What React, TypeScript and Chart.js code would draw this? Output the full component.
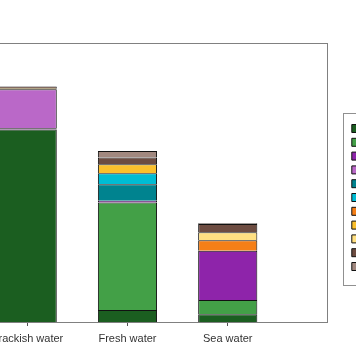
import React, { useEffect, useRef } from 'react';
import { Chart, registerables } from 'chart.js';

Chart.register(...registerables);

// Categories (x axis tick labels)
const categories = ['Brackish water', 'Fresh water', 'Sea water'];

// Legend entries (text lies outside the visible area of the reference)
const seriesNames = [
  'Group 1', 'Group 2', 'Group 3', 'Group 4', 'Group 5', 'Group 6',
  'Group 7', 'Group 8', 'Group 9', 'Group 10', 'Group 11',
];

const seriesColors = [
  '#1B5E20', '#43A047', '#8E24AA', '#BA68C8', '#00838F', '#00BCD4',
  '#F57F17', '#FBC02D', '#FFE082', '#6D4C41', '#A1887F',
];

// Series values per category (Brackish, Fresh, Sea)
const s1 = [69.0, 4.3, 2.8];
const s2 = [0, 38.5, 5.1];
const s3 = [0.4, 0.7, 17.6];
const s4 = [14.0, 0, 0];
const s5 = [0, 5.9, 0];
const s6 = [0, 3.9, 0];
const s7 = [0, 0, 3.8];
const s8 = [0.35, 3.2, 0];
const s9 = [0, 0, 2.9];
const s10 = [0.7, 2.5, 2.9];
const s11 = [0, 2.3, 0.3];

const seriesValues = [s1, s2, s3, s4, s5, s6, s7, s8, s9, s10, s11];

const yMax = 100;
const xMin = -0.74;
const xMax = 2.99;

const FONT = 'Liberation Sans, Arial, sans-serif';

const framePlugin = {
  id: 'frames',
  afterDraw(chart: any) {
    const { ctx, chartArea: a } = chart;
    ctx.save();
    ctx.strokeStyle = '#808080';
    ctx.lineWidth = 1;
    ctx.strokeRect(
      Math.round(a.left) + 0.5,
      Math.round(a.top) + 0.5,
      Math.round(a.right - a.left),
      Math.round(a.bottom - a.top)
    );
    const boxes = chart.legend && chart.legend.legendHitBoxes;
    if (boxes && boxes.length) {
      const left = Math.min(...boxes.map((b: any) => b.left)) - 9;
      const top = boxes[0].top - 10;
      const last = boxes[boxes.length - 1];
      const bottom = last.top + last.height + 13;
      ctx.strokeStyle = '#909090';
      ctx.strokeRect(
        Math.round(left) + 0.5,
        Math.round(top) + 0.5,
        chart.width - Math.round(left) + 5,
        Math.round(bottom - top)
      );
    }
    ctx.restore();
  },
};

export default function App() {
  const ref = useRef<HTMLCanvasElement | null>(null);

  useEffect(() => {
    if (!ref.current) return;
    const datasets = seriesValues.map((vals, k) => ({
      label: seriesNames[k],
      data: vals.map((v, i) => ({ x: i, y: v === 0 ? null : v })),
      backgroundColor: seriesColors[k],
      borderColor: '#111111',
      borderWidth: 1,
      barPercentage: 0.59,
      categoryPercentage: 1,
    }));

    const chart = new Chart(ref.current, {
      type: 'bar',
      data: { datasets },
      plugins: [framePlugin],
      options: {
        responsive: false,
        animation: false,
        events: [],
        layout: { padding: { top: 43, left: 0, right: 0, bottom: 0 } },
        plugins: {
          tooltip: { enabled: false },
          title: { display: false },
          legend: {
            display: true,
            position: 'right',
            align: 'center',
            maxWidth: 60,
            labels: {
              boxWidth: 8,
              boxHeight: 8,
              padding: 2.8,
              color: '#333333',
              font: { size: 11, family: FONT },
            },
          },
        },
        scales: {
          x: {
            type: 'linear',
            stacked: true,
            offset: false,
            min: xMin,
            max: xMax,
            grid: {
              display: true,
              offset: false,
              drawOnChartArea: false,
              drawTicks: true,
              tickLength: 4,
              color: '#555555',
            },
            border: { display: false },
            ticks: {
              stepSize: 1,
              includeBounds: false,
              autoSkip: false,
              maxRotation: 0,
              padding: 6,
              color: '#333333',
              font: { size: 11, family: FONT },
              callback: (value: any) =>
                Number.isInteger(value) && categories[value] !== undefined ? categories[value] : '',
            },
            afterFit: (s: any) => {
              s.height = 30;
            },
          },
          y: {
            stacked: true,
            display: false,
            min: 0,
            max: yMax,
          },
          y2: {
            type: 'linear',
            position: 'right',
            display: true,
            grid: { display: false, drawTicks: false },
            border: { display: false },
            ticks: { display: false },
            afterFit: (s: any) => {
              s.width = 22;
            },
          },
        },
      },
    } as any);

    return () => chart.destroy();
  }, []);

  return (
    <div
      style={{
        position: 'fixed',
        left: 0,
        top: 0,
        width: 356,
        height: 364,
        overflow: 'hidden',
        background: '#ffffff',
      }}
    >
      <canvas
        ref={ref}
        width={456}
        height={352}
        style={{ position: 'absolute', left: -47, top: 0, display: 'block', width: 456, height: 352 }}
      />
    </div>
  );
}
